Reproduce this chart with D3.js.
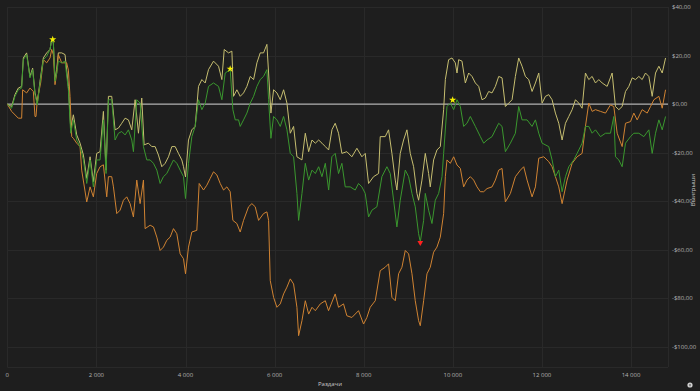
<!DOCTYPE html>
<html>
<head>
<meta charset="utf-8">
<script src="https://cdn.jsdelivr.net/npm/d3@7"></script>
<style>
  html, body { margin: 0; padding: 0; background: #1e1e1e; }
  svg { display: block; font-family: "Open Sans", "DejaVu Sans", sans-serif; }
  .tick-label { fill: #b4b4b4; font-size: 6px; }
  .axis-title { fill: #c8c8c8; font-size: 6px; }
</style>
</head>
<body>
<div class="chart"></div>
<script>
const width = 700;
const height = 391;
const margin = {top: 7, right: 32, bottom: 24, left: 7.3}
const xAxisLabel = 'Раздачи'
const yAxisLabel = 'Выигрыши'

const xTicks = [0, 2000, 4000, 6000, 8000, 10000, 12000, 14000]
const yTicks = [40, 20, 0, -20, -40, -60, -80, -100]

// [hands, $] pairs
const yellowSeries = [[0,0],[97,-1],[172,3.9],[247,6.6],[322,7.3],[360,19],[434,21.1],[509,11.4],[569,14.8],[622,4.6],[674,0.4],[734,9.4],[809,19],[884,21.1],[959,22.5],[996,26.6],[1034,25.2],[1071,10.1],[1109,14.2],[1146,21.1],[1221,21.1],[1296,20.4],[1371,7.3],[1423,-9.9],[1483,-4.4],[1558,-12.7],[1633,-16.1],[1708,-21],[1783,-30.6],[1858,-21.7],[1932,-32],[2007,-20.3],[2082,-19.6],[2157,-3],[2217,-27.2],[2270,3.2],[2344,3.2],[2419,-10.6],[2494,-9.9],[2569,-7.9],[2644,-5.8],[2719,-6.5],[2794,-10.6],[2869,1.8],[2944,-12],[3018,2.5],[3071,-16.8],[3168,-16.1],[3243,-17.5],[3318,-17.5],[3393,-21],[3468,-25.8],[3543,-24.4],[3618,-21.7],[3693,-17.5],[3768,-17.5],[3842,-20.3],[3917,-23],[3955,-25.8],[4000,-30],[4067,-14.8],[4142,-10.6],[4217,-9.2],[4292,7.3],[4367,10.1],[4442,8.7],[4516,14.2],[4629,17.7],[4741,15.6],[4816,10.1],[4869,22.5],[4966,21.1],[5041,21.8],[5078,3.2],[5153,5.9],[5228,3.2],[5303,4.6],[5378,7.3],[5453,11.4],[5528,10.1],[5603,17],[5677,21.1],[5752,21.1],[5827,24.6],[5865,12.8],[5917,-3.7],[5977,5.9],[6052,4.6],[6127,1.8],[6202,5.9],[6277,0.4],[6352,-12],[6426,-9.2],[6501,-21.7],[6614,-23],[6689,-12],[6764,-19.6],[6839,-14.8],[6914,-16.1],[6989,-14.8],[7063,-16.1],[7138,-17.5],[7213,-18.9],[7288,-10.5],[7360,-7.9],[7435,-12],[7510,-20.3],[7622,-19.6],[7734,-21.7],[7847,-18.2],[7959,-21.7],[8034,-20.3],[8109,-32.7],[8221,-29.9],[8334,-28.6],[8371,-13.4],[8483,-13.4],[8558,-10.6],[8633,-20.3],[8708,-31.3],[8745,-35.4],[8820,-20.3],[8895,-14.8],[8970,-10.6],[9045,-20.3],[9120,-25.8],[9195,-36.8],[9232,-39.6],[9307,-31.3],[9382,-20.3],[9457,-28.6],[9494,-34.1],[9569,-23],[9644,-18.9],[9719,-17.5],[9794,-2.3],[9832,10.1],[9906,18.3],[9981,19],[10056,17],[10094,12.8],[10131,18.3],[10206,17.7],[10281,8.7],[10356,12.8],[10431,11.4],[10506,8.7],[10581,7.3],[10655,1.8],[10730,2.5],[10805,5.2],[10880,4.6],[10955,7.3],[11030,11.4],[11105,10.8],[11180,-1],[11255,0.4],[11330,1.8],[11404,11.4],[11479,19],[11554,15.6],[11629,11.4],[11704,10.1],[11779,5.2],[11854,8.7],[11929,12.8],[12004,0.4],[12079,3.2],[12153,3.9],[12228,1.8],[12303,-3.7],[12378,-7.9],[12453,-14.8],[12528,-7.9],[12603,-5.1],[12678,-2.3],[12753,1.8],[12827,0.4],[12902,-1.7],[12977,12.8],[13052,10.1],[13127,11.4],[13202,8.7],[13277,10.1],[13352,8.7],[13464,7.3],[13576,12.8],[13651,-1],[13726,-2.3],[13801,-1],[13876,5.2],[13951,7.3],[14026,10.8],[14101,10.1],[14176,11.4],[14250,10.1],[14325,12.8],[14400,11.4],[14475,3.2],[14550,12.8],[14625,15.6],[14700,12.8],[14775,19]]

const greenSeries = [[0,0],[97,-1.7],[172,3.2],[247,5.9],[322,6.6],[360,18.3],[434,20.4],[509,10.8],[569,14.2],[622,3.9],[674,-0.3],[734,8.7],[809,18.3],[884,19.7],[959,22.5],[996,26.6],[1034,25.2],[1071,9.4],[1109,12.8],[1146,17.7],[1221,17],[1296,17.7],[1371,5.9],[1423,-12],[1483,-6.5],[1558,-14.8],[1633,-17.5],[1708,-23],[1783,-32.7],[1858,-23],[1932,-34.1],[2007,-23],[2082,-23],[2157,-6.5],[2217,-28.6],[2270,1.8],[2344,1.8],[2419,-14.8],[2494,-12],[2569,-11.3],[2644,-12.7],[2719,-10.6],[2794,-14.8],[2831,-19.6],[2906,1.8],[2981,0.4],[3056,-17.5],[3131,-23],[3206,-23],[3281,-24.4],[3356,-27.2],[3430,-32.7],[3505,-29.9],[3580,-28.6],[3655,-25.8],[3730,-23],[3805,-24.4],[3880,-27.2],[3955,-29.9],[4000,-38.9],[4067,-24.4],[4142,-13.4],[4217,-9.2],[4292,1.8],[4367,-2.3],[4442,0.4],[4516,7.3],[4629,8.7],[4741,7.3],[4816,1.8],[4891,12.8],[5003,14.2],[5063,-2.3],[5116,-6.5],[5191,-6.5],[5228,-9.2],[5303,-6.5],[5378,-3.7],[5453,0.4],[5528,3.2],[5603,7.3],[5677,10.1],[5752,11.4],[5827,14.2],[5865,1.8],[5917,-14.1],[5977,-5.1],[6052,-6.5],[6127,-9.2],[6202,-5.1],[6277,-10.6],[6352,-20.3],[6426,-21.7],[6501,-36.8],[6539,-47.9],[6614,-36.8],[6689,-24.4],[6764,-31.3],[6839,-27.2],[6914,-28.6],[6989,-25.8],[7063,-29.9],[7138,-24.4],[7213,-35.4],[7285,-21.7],[7360,-20.3],[7435,-28.6],[7510,-24.4],[7585,-34.1],[7697,-34.1],[7809,-35.4],[7884,-32.7],[7959,-34.1],[8034,-36.8],[8109,-46.5],[8184,-43.7],[8296,-42.3],[8408,-29.9],[8521,-25.8],[8596,-28.6],[8671,-39.6],[8745,-50.6],[8820,-39.6],[8933,-27.2],[9008,-29.9],[9083,-36.8],[9157,-42.3],[9232,-53.4],[9270,-56.8],[9345,-47.9],[9382,-36.8],[9457,-43.7],[9532,-49.2],[9607,-39.6],[9682,-36.8],[9757,-29.9],[9794,-20.3],[9869,-1],[9944,0.4],[10019,-2.3],[10094,1.8],[10169,-1],[10243,-9.2],[10318,-7.9],[10393,-5.1],[10506,-9.2],[10618,-13.4],[10693,-16.1],[10768,-14.8],[10880,-13.4],[10955,-10.6],[11030,-7.9],[11105,-9.2],[11180,-19.6],[11292,-16.1],[11404,-12],[11479,-1],[11554,-6.5],[11667,-6.5],[11779,-9.2],[11854,-6.5],[11929,-12],[12004,-16.1],[12153,-17.5],[12228,-23],[12303,-29.9],[12378,-27.2],[12453,-36.1],[12528,-29.9],[12603,-25.8],[12715,-23],[12790,-20.3],[12902,-16.1],[12977,-9.2],[13052,-9.2],[13127,-12],[13202,-10.6],[13314,-13.4],[13427,-12],[13539,-12],[13614,-5.1],[13651,-21.7],[13726,-23],[13801,-25.8],[13876,-16.1],[13988,-13.4],[14063,-12],[14176,-12],[14288,-13.4],[14400,-10.6],[14475,-20.3],[14550,-12],[14625,-6.5],[14700,-10.6],[14775,-5.1]]

const orangeSeries = [[0,0],[97,-3],[247,-5.8],[322,-5.8],[345,5.9],[434,4.6],[509,6.6],[584,5.2],[622,-5.1],[644,-5.1],[674,1.8],[749,8.7],[809,18.3],[884,17],[959,19],[996,22.5],[1034,20.4],[1071,8],[1109,12.8],[1146,20.4],[1221,17],[1333,17],[1371,14],[1408,3.2],[1446,-13.4],[1483,-14.1],[1558,-16.1],[1633,-17.5],[1670,-27.2],[1783,-40.3],[1858,-34.1],[1932,-38.2],[2007,-28.6],[2082,-25.8],[2157,-25],[2232,-38.2],[2270,-29.9],[2344,-29.9],[2382,-34.1],[2457,-45.1],[2532,-43.7],[2607,-39.6],[2681,-38.2],[2756,-41],[2831,-46.5],[2906,-31.3],[2981,-41],[3056,-31.3],[3093,-51.3],[3206,-49.9],[3281,-50.6],[3356,-54.8],[3430,-60.3],[3505,-58.9],[3580,-56.1],[3655,-54.8],[3730,-51.3],[3805,-53.4],[3880,-61.7],[3955,-63.7],[4000,-69.9],[4067,-58.9],[4142,-52.7],[4254,-52],[4307,-32.7],[4404,-35.4],[4479,-33.4],[4554,-30.6],[4629,-27.9],[4704,-29.2],[4779,-32.7],[4854,-35.4],[4928,-34.1],[5003,-36.1],[5063,-47.9],[5153,-49.2],[5228,-52.7],[5303,-47.9],[5415,-42.3],[5490,-41],[5565,-42.3],[5640,-47.9],[5752,-45.1],[5827,-44.4],[5865,-47.9],[5902,-72.7],[5977,-79.6],[6052,-83.7],[6127,-82.3],[6202,-78.2],[6277,-75.4],[6352,-72],[6426,-74.1],[6501,-83.7],[6539,-95.4],[6614,-89.2],[6689,-81],[6764,-86.5],[6839,-83.7],[6914,-85.1],[7026,-82.3],[7138,-81],[7210,-85.1],[7360,-78.2],[7435,-83.7],[7547,-82.3],[7622,-87.2],[7734,-87.9],[7884,-85.1],[7996,-90.6],[8071,-87.9],[8146,-83.7],[8259,-81],[8371,-68.6],[8483,-67.2],[8558,-65.8],[8633,-79.6],[8708,-81],[8783,-69.9],[8858,-67.2],[8933,-60.3],[9008,-61.7],[9083,-69.9],[9157,-81],[9232,-89.2],[9270,-91.3],[9345,-81],[9420,-69.9],[9494,-67.2],[9569,-61],[9644,-58.9],[9719,-54.8],[9794,-45.1],[9832,-29.9],[9869,-23],[9944,-24.4],[10019,-21.7],[10094,-25.1],[10169,-26.5],[10243,-34.1],[10318,-31.3],[10393,-29.9],[10468,-31.3],[10543,-34.1],[10618,-36.1],[10693,-36.1],[10768,-34.8],[10880,-34.1],[10955,-31.3],[11030,-27.2],[11105,-26.5],[11180,-40.3],[11292,-36.8],[11404,-29.9],[11517,-27.2],[11592,-25.8],[11667,-31.3],[11779,-38.2],[11854,-34.1],[11929,-22.3],[12041,-21.7],[12153,-23.7],[12228,-25.8],[12303,-29.9],[12378,-34.1],[12453,-41],[12565,-31.3],[12678,-24.4],[12790,-21.7],[12902,-20.3],[12977,-9.2],[13052,0.4],[13127,-3],[13202,-2.3],[13314,-3],[13427,-3.7],[13539,-0.3],[13614,-1],[13689,-12],[13801,-17.5],[13876,-7.9],[13988,-7.2],[14063,-3.7],[14138,-6.5],[14250,-2.3],[14363,-3.7],[14438,-1],[14513,1.8],[14625,3.2],[14700,-1.7],[14775,5.9]]

// markers: [hands, $]
const starMarks = [[1019, 26.6], [5003, 14.5], [9996, 1.7]]
const lowMark = [[9270, -57.1]]

const series = [
  {name: 'yellow', color: '#c6be70', data: yellowSeries},
  {name: 'orange', color: '#d08332', data: orangeSeries},
  {name: 'green', color: '#3a972e', data: greenSeries}
]

const innerRight = width - margin.right
const innerBottom = height - margin.bottom

const svg = d3.select('.chart')
  .append('svg')
  .attr('width', width)
  .attr('height', height)

svg.append('rect')
  .attr('width', width).attr('height', height)
  .attr('fill', '#1e1e1e')

const xScale = d3.scaleLinear()
  .domain([0, 14830])
  .range([margin.left, innerRight])

const yScale = d3.scaleLinear()
  .domain([-108.3, 40])
  .range([innerBottom, margin.top])

// grid
const grid = svg.append('g').attr('stroke', '#292929').attr('stroke-width', 1)
grid.selectAll('.vg').data(xTicks).enter().append('line')
  .attr('x1', d => Math.round(xScale(d)) + 0.5).attr('x2', d => Math.round(xScale(d)) + 0.5)
  .attr('y1', margin.top).attr('y2', innerBottom)
grid.selectAll('.hg').data(yTicks).enter().append('line')
  .attr('x1', margin.left).attr('x2', innerRight)
  .attr('y1', d => Math.round(yScale(d)) + 0.5).attr('y2', d => Math.round(yScale(d)) + 0.5)
// frame right + bottom
grid.append('line').attr('x1', innerRight + 0.5).attr('x2', innerRight + 0.5).attr('y1', margin.top).attr('y2', innerBottom)
grid.append('line').attr('x1', margin.left).attr('x2', innerRight).attr('y1', innerBottom + 0.5).attr('y2', innerBottom + 0.5)

// zero line
svg.append('line')
  .attr('x1', margin.left).attr('x2', innerRight)
  .attr('y1', yScale(0)).attr('y2', yScale(0))
  .attr('stroke', '#d2d2d2').attr('stroke-width', 1)

const line = d3.line()
  .x(d => xScale(d[0]))
  .y(d => yScale(d[1]))

svg.selectAll('.series')
  .data(series)
  .enter().append('path')
  .attr('class', 'series')
  .attr('d', d => line(d.data))
  .attr('fill', 'none')
  .attr('stroke', d => d.color)
  .attr('stroke-width', 1)
  .attr('stroke-linejoin', 'round')

// markers
svg.selectAll('.star')
  .data(starMarks)
  .enter().append('path')
  .attr('d', d3.symbol().type(d3.symbolStar).size(16))
  .attr('transform', d => `translate(${xScale(d[0])},${yScale(d[1])})`)
  .attr('fill', '#f5f000')

svg.selectAll('.low')
  .data(lowMark)
  .enter().append('path')
  .attr('d', d3.symbol().type(d3.symbolTriangle).size(14))
  .attr('transform', d => `translate(${xScale(d[0])},${yScale(d[1])}) rotate(180)`)
  .attr('fill', '#ff2020')

// tick labels
const fmtX = d => d3.format(',')(d).replace(/,/g, ' ')
svg.selectAll('.xt').data(xTicks).enter().append('text')
  .attr('class', 'tick-label')
  .attr('x', d => xScale(d))
  .attr('y', 377)
  .attr('text-anchor', 'middle')
  .text(fmtX)

const fmtY = d => (d < 0 ? '-$' : '$') + Math.abs(d) + ',00'
svg.selectAll('.yt').data(yTicks).enter().append('text')
  .attr('class', 'tick-label')
  .attr('x', innerRight + 4)
  .attr('y', d => yScale(d) + 2)
  .text(fmtY)

// axis titles
svg.append('text')
  .attr('class', 'axis-title')
  .attr('x', 330).attr('y', 386)
  .attr('text-anchor', 'middle')
  .text(xAxisLabel)

svg.append('g')
  .attr('transform', `translate(${width - 5},${190})`)
  .append('text')
  .attr('class', 'axis-title')
  .attr('text-anchor', 'middle')
  .attr('transform', 'rotate(-90)')
  .text(yAxisLabel)

// little info icon bottom-right
svg.append('circle')
  .attr('cx', 690).attr('cy', 385).attr('r', 2.6)
  .attr('fill', '#d0d0d0')
svg.append('rect')
  .attr('x', 689.6).attr('y', 384).attr('width', 0.8).attr('height', 2.2)
  .attr('fill', '#1e1e1e')
</script>
</body>
</html>
